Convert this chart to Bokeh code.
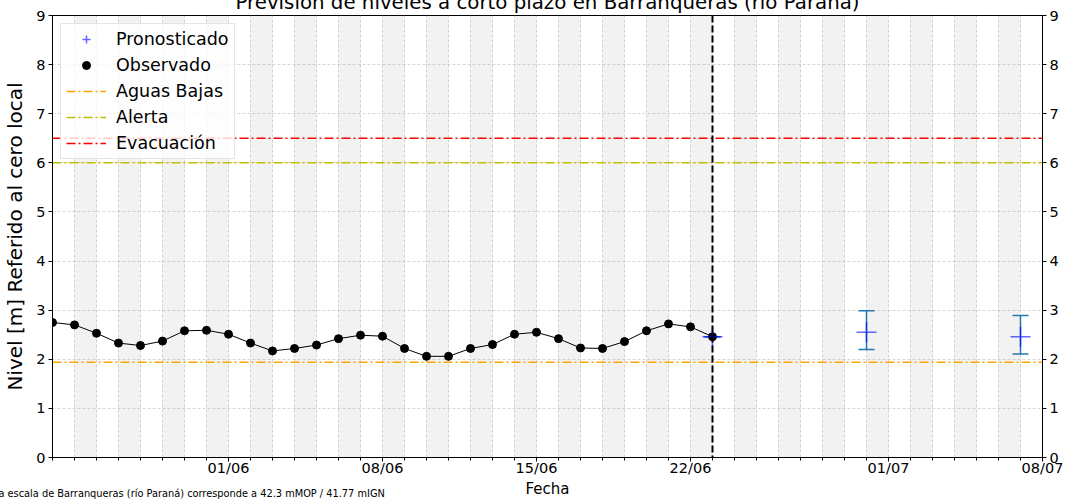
import pandas as pd
from bokeh.plotting import figure
from bokeh.layouts import column
from bokeh.models import (ColumnDataSource, FixedTicker, DatetimeTickFormatter, LinearAxis,
                          Range1d, Span, Whisker, TeeHead, Legend, LegendItem, Div,
                          GlobalInlineStyleSheet)
from bokeh.embed import file_html
from bokeh.resources import INLINE

# ---------------- data ----------------
obs_start = "2025-05-24"
obs_end = "2025-06-23"
obs_values = [2.75, 2.70, 2.53, 2.33, 2.28, 2.37, 2.58, 2.59, 2.51, 2.33, 2.17,
              2.22, 2.29, 2.42, 2.49, 2.47, 2.22, 2.06, 2.06, 2.22, 2.30, 2.51,
              2.55, 2.42, 2.23, 2.22, 2.36, 2.58, 2.72, 2.66, 2.46]

fc_dates = ["2025-06-23", "2025-06-30", "2025-07-07"]
fc_values = [2.46, 2.55, 2.46]
fc_lower = [2.46, 2.20, 2.11]
fc_upper = [2.46, 2.99, 2.89]

aguas_bajas = 1.94
alerta = 6.0
evacuacion = 6.5

x_start = "2025-05-24"
x_end = "2025-07-08"
cut_date = "2025-06-23"
x_tick_dates = ["2025-06-01", "2025-06-08", "2025-06-15", "2025-06-22",
                "2025-07-01", "2025-07-08"]
y_ticks = [0, 1, 2, 3, 4, 5, 6, 7, 8, 9]

title_text = "Previsión de niveles a corto plazo en Barranqueras (río Paraná)"
footnote_text = "El cero de la escala de Barranqueras (río Paraná) corresponde a 42.3 mMOP / 41.77 mIGN"

FONT = "DejaVu Sans"


def ms(d):
    return pd.Timestamp(d).value / 1e6


obs_dates = pd.date_range(obs_start, obs_end, freq="D")
days = pd.date_range(x_start, x_end, freq="D")
band_left = days[1:-1:2]
band_right = band_left + pd.Timedelta(days=1)

TOP_SHIFT = 13
p = figure(width=1069, height=501 + TOP_SHIFT, x_axis_type="datetime",
           x_range=Range1d(ms(x_start), ms(x_end)), y_range=Range1d(y_ticks[0], y_ticks[-1]),
           output_backend="svg", toolbar_location=None,
           min_border_left=52, min_border_right=27, min_border_top=15 + TOP_SHIFT,
           min_border_bottom=44,
           background_fill_color="white", border_fill_color="white")
p.outline_line_color = "black"
p.outline_line_width = 1

p.title.text = title_text
p.title.align = "center"
p.title.text_font = FONT
p.title.text_font_size = "19.8px"
p.title.text_font_style = "normal"
p.title.text_color = "black"
p.title.standoff = 3

# alternating day bands
p.quad(left=band_left, right=band_right, bottom=y_ticks[0], top=y_ticks[-1],
       fill_color="#808080", fill_alpha=0.1, line_color=None)

# threshold lines
dash = "9 3 2 3"
r_ab = p.line([pd.Timestamp(x_start), pd.Timestamp(x_end)], [aguas_bajas, aguas_bajas],
              line_color="orange", line_width=1.5, line_dash=dash)
r_al = p.line([pd.Timestamp(x_start), pd.Timestamp(x_end)], [alerta, alerta],
              line_color="#bfbf00", line_width=1.5, line_dash=dash)
r_ev = p.line([pd.Timestamp(x_start), pd.Timestamp(x_end)], [evacuacion, evacuacion],
              line_color="red", line_width=1.5, line_dash=dash)

# observed
p.line(obs_dates, obs_values, line_color="black", line_width=1)
r_obs = p.scatter(obs_dates, obs_values, size=8, color="black")

# forecast
fc_src = ColumnDataSource(dict(x=pd.to_datetime(fc_dates), y=fc_values,
                               lower=fc_lower, upper=fc_upper))
r_fc = p.scatter("x", "y", source=fc_src, marker="cross", size=20,
                 line_color="blue", line_alpha=0.6, line_width=1.5)
p.add_layout(Whisker(source=fc_src, base="x", upper="upper", lower="lower",
                     line_color="#1f77b4", line_width=1.5,
                     upper_head=TeeHead(size=16, line_color="#1f77b4", line_width=1.5),
                     lower_head=TeeHead(size=16, line_color="#1f77b4", line_width=1.5)))

# cut line
p.add_layout(Span(location=ms(cut_date), dimension="height", line_color="black",
                  line_dash="7 3", line_width=2))

# axes
p.xaxis.ticker = FixedTicker(ticks=[ms(d) for d in x_tick_dates],
                             minor_ticks=[ms(d) for d in days])
fmt = "%d/%m"
p.xaxis.formatter = DatetimeTickFormatter(days=fmt, months=fmt, years=fmt, hours=fmt,
                                          minutes=fmt, seconds=fmt, milliseconds=fmt,
                                          microseconds=fmt)
p.yaxis.ticker = FixedTicker(ticks=y_ticks)
right_axis = LinearAxis(ticker=FixedTicker(ticks=y_ticks))
p.add_layout(right_axis, "right")

for ax in p.axis:
    ax.axis_line_color = "black"
    ax.major_tick_line_color = "black"
    ax.minor_tick_line_color = "black"
    ax.major_tick_out = 4
    ax.major_tick_in = 0
    ax.minor_tick_out = 3
    ax.minor_tick_in = 0
    ax.major_label_text_font = FONT
    ax.major_label_text_font_size = "14.5px"
    ax.major_label_text_color = "black"
    ax.major_label_standoff = 3
    ax.axis_label_text_color = "black"
for ax in p.yaxis:
    ax.minor_tick_line_color = None

p.xaxis.axis_label = "Fecha"
p.xaxis.axis_label_text_font = FONT
p.xaxis.axis_label_text_font_size = "15px"
p.xaxis.axis_label_text_font_style = "normal"
p.xaxis.axis_label_standoff = 1
p.xaxis.major_label_standoff = -2

p.yaxis[0].axis_label = "Nivel [m] Referido al cero local"
p.yaxis[0].axis_label_text_font = FONT
p.yaxis[0].axis_label_text_font_size = "20px"
p.yaxis[0].axis_label_text_font_style = "normal"
p.yaxis[0].axis_label_standoff = 6

# grids
p.xgrid.ticker = FixedTicker(ticks=[ms(d) for d in days])
for g in (p.xgrid, p.ygrid):
    g.grid_line_color = "#b0b0b0"
    g.grid_line_alpha = 0.5
    g.grid_line_dash = "3 2"
    g.grid_line_width = 1
p.ygrid.ticker = FixedTicker(ticks=y_ticks)

# legend
legend = Legend(items=[
    LegendItem(label="Pronosticado", renderers=[r_fc]),
    LegendItem(label="Observado", renderers=[r_obs]),
    LegendItem(label="Aguas Bajas", renderers=[r_ab]),
    LegendItem(label="Alerta", renderers=[r_al]),
    LegendItem(label="Evacuación", renderers=[r_ev]),
], location="top_left", margin=8, padding=5, spacing=6, label_standoff=10,
    glyph_width=40, glyph_height=20, label_height=20,
    label_text_font=FONT, label_text_font_size="17.5px", label_text_color="black",
    border_line_color="#cccccc", border_line_width=1,
    background_fill_color="white", background_fill_alpha=0.8)
p.add_layout(legend)

# footnote (partly cut at the left edge, as in the reference)
foot = Div(text=('<span style="font-family:\'DejaVu Sans\';font-size:9.8px;'
                 'white-space:nowrap;color:black;line-height:12px">'
                 + footnote_text + '</span>'),
           width=520, height=14,
           styles={"position": "absolute", "left": "-56px", "top": f"{485 + TOP_SHIFT}px",
                   "margin": "0px", "padding": "0px"})

layout = column(p, foot,
                styles={"position": "absolute", "left": "0px", "top": f"-{TOP_SHIFT}px"},
                stylesheets=[GlobalInlineStyleSheet(css="html, body { overflow: hidden; }")])

open("out.html", "w").write(file_html(layout, INLINE))
